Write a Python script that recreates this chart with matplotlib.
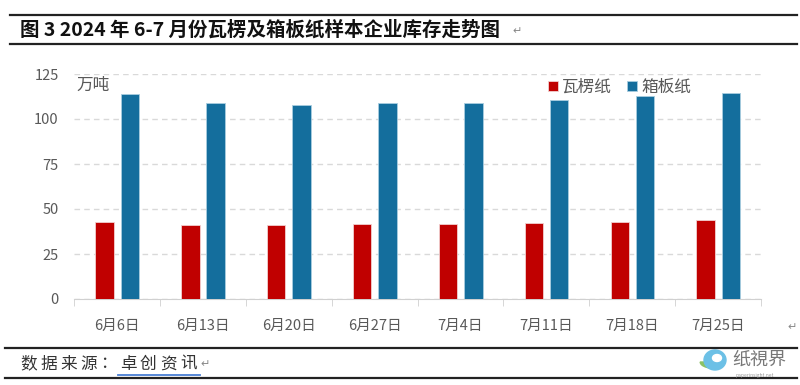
import matplotlib.pyplot as plt
import numpy as np
from matplotlib.patches import Ellipse, Wedge

plt.rcParams['font.family'] = ['Noto Sans CJK SC', 'DejaVu Sans']

dates = ['6月6日', '6月13日', '6月20日', '6月27日', '7月4日', '7月11日', '7月18日', '7月25日']
corrugated = [43, 41, 41, 41.5, 41.5, 42.2, 43, 44]
boxboard = [114, 109, 108, 109, 109, 110.6, 113, 114.6]
yticks = [0, 25, 50, 75, 100, 125]

red = '#C00000'
blue = '#146E9D'
gray = '#595959'

W, H = 800, 385


def fy(py):
    return 1 - py / H


fig = plt.figure(figsize=(8, 3.85), dpi=100)
ax = fig.add_axes([74 / W, fy(299), (761 - 74) / W, (299 - 74) / H])

x = np.arange(len(dates))
w = 0.215
ax.bar(x - 0.145, corrugated, w, color=red, edgecolor='#f2d0d0', linewidth=0.6, label='瓦楞纸', zorder=3)
ax.bar(x + 0.15, boxboard, w, color=blue, edgecolor='#a9cde0', linewidth=0.6, label='箱板纸', zorder=3)

ax.set_xlim(-0.5, len(dates) - 0.5)
ax.set_ylim(0, 125)
ax.set_yticks(yticks)
ax.set_yticklabels([str(v) for v in yticks])
ax.yaxis.grid(True, color='#d9d9d9', linestyle=(0, (4, 3)), linewidth=1)
ax.set_axisbelow(True)
for s in ['top', 'right', 'left']:
    ax.spines[s].set_visible(False)
ax.spines['bottom'].set_color('#d0d0d0')
ax.tick_params(axis='y', length=0, pad=11, labelsize=10.5, labelcolor=gray)
ax.set_xticks(x)
ax.set_xticklabels(dates)
ax.tick_params(axis='x', length=0, pad=14, labelsize=10.5, labelcolor=gray)
ax.set_xticks(np.arange(-0.5, len(dates)), minor=True)
ax.tick_params(axis='x', which='minor', length=5, color='#d0d0d0', direction='out')

ax.text(0.004, 0.95, '万吨', transform=ax.transAxes, fontsize=12, color=gray, va='center')
ax.legend(loc='upper left', bbox_to_anchor=(0.668, 1.045), ncol=2, frameon=False,
          fontsize=12, labelcolor=gray, handlelength=0.6, handleheight=0.6,
          handletextpad=0.25, columnspacing=0.9)

# page decorations: title and source rules
for py in [15, 44]:
    fig.add_artist(plt.Line2D([0.012, 0.996], [fy(py), fy(py)], color='#222222', linewidth=1.6))
for py in [348, 378]:
    fig.add_artist(plt.Line2D([0.006, 0.996], [fy(py), fy(py)], color='#222222', linewidth=1.6))

fig.text(20 / W, fy(30), '图 3 2024 年 6-7 月份瓦楞及箱板纸样本企业库存走势图', fontsize=14,
         fontweight='bold', color='#111111', va='center')
fig.text(512 / W, fy(31), '↵', fontsize=8, color='#888888', va='center')
fig.text(787 / W, fy(327), '↵', fontsize=8, color='#888888', va='center')

source = '数据来源：'
for i, ch in enumerate(source):
    fig.text((20 + 20 * i) / W, fy(364), ch, fontsize=12, color='#333333', va='center')
for i, ch in enumerate('卓创资讯'):
    fig.text((120 + 20 * i) / W, fy(364), ch, fontsize=12, color='#333333', va='center')
fig.add_artist(plt.Line2D([118 / W, 200 / W], [fy(374.5), fy(374.5)], color='#4a7fd4', linewidth=1.3))
fig.text(200 / W, fy(364), '↵', fontsize=8, color='#888888', va='center')

# logo
fig.add_artist(Wedge((713 / W, fy(362)), 0.016, 180, 300, width=0.005, transform=fig.transFigure,
                     color='#8cc265'))
fig.add_artist(Ellipse((715 / W, fy(360)), 22 / W, 20 / H, transform=fig.transFigure, color='#6cc0e6'))
fig.add_artist(Ellipse((717 / W, fy(358)), 9 / W, 7 / H, transform=fig.transFigure, color='white'))
fig.text(732 / W, fy(360), '纸視界', fontsize=13, color='#777777', va='center')
fig.text(736 / W, fy(375), 'paperinsight.net', fontsize=3.5, color='#999999', va='center')

fig.savefig('out.png', dpi=100)
